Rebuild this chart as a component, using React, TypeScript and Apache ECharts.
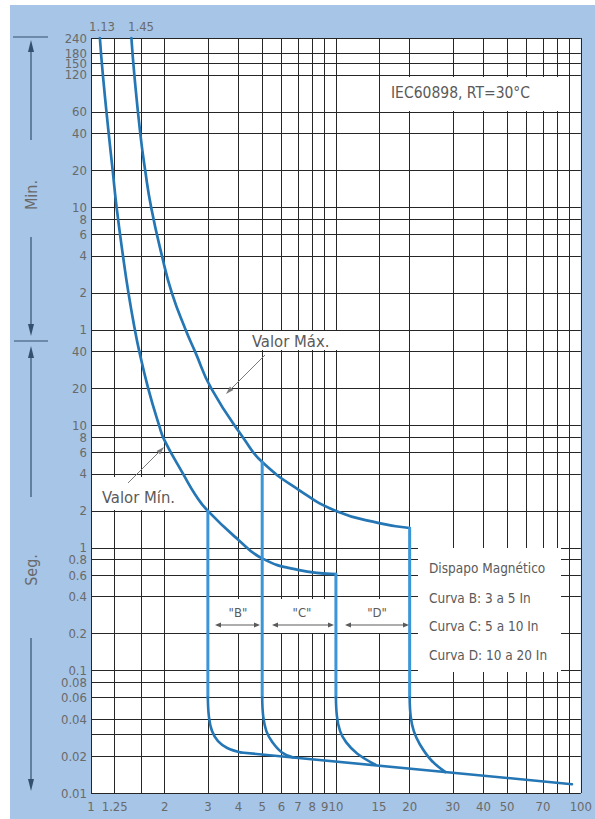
import React, { useEffect, useRef } from "react";
import * as echarts from "echarts";

// ---- axis grid & labels ----
const xGridValues = [1, 1.25, 1.6, 2, 3, 4, 5, 6, 7, 8, 9, 10, 15, 20, 30, 40, 50, 60, 70, 80, 90, 100];
const xLabelValues = [1, 1.25, 2, 3, 4, 5, 6, 7, 8, 9, 10, 15, 20, 30, 40, 50, 70, 100];
// y axis in seconds (upper part labelled in minutes)
const yGridValues = [
  0.01, 0.02, 0.03, 0.04, 0.06, 0.08, 0.1, 0.2, 0.4, 0.6, 0.8, 1, 2, 4, 6, 8, 10, 20, 40,
  60, 120, 240, 360, 480, 600, 1200, 2400, 3600, 7200, 9000, 10800, 14400,
];
const yLabelValues = [
  0.01, 0.02, 0.04, 0.06, 0.08, 0.1, 0.2, 0.4, 0.6, 0.8, 1, 2, 4, 6, 8, 10, 20, 40,
  60, 120, 240, 360, 480, 600, 1200, 2400, 3600, 7200, 9000, 10800, 14400,
];
const yLabelTexts = [
  "0.01", "0.02", "0.04", "0.06", "0.08", "0.1", "0.2", "0.4", "0.6", "0.8", "1", "2", "4", "6", "8", "10", "20", "40",
  "1", "2", "4", "6", "8", "10", "20", "40", "60", "120", "150", "180", "240",
];

// ---- curves [In multiple, time s] ----
const minCurve = [
  [1.087, 14400], [1.118, 7200], [1.181, 2400], [1.226, 1200], [1.272, 600], [1.351, 240], [1.422, 120],
  [1.511, 60], [1.575, 40], [1.712, 20], [1.896, 10], [1.994, 7.57], [2.39, 3.93], [2.67, 2.7], [3, 2],
  [4, 1.16], [5, 0.82], [7, 0.66], [10, 0.61],
];
const maxCurve = [
  [1.462, 14400], [1.503, 7200], [1.589, 2400], [1.664, 1200], [1.76, 600], [1.949, 240], [2.138, 120],
  [2.434, 60], [2.658, 40], [3.097, 20], [4.244, 7.57], [5, 5], [7.07, 2.96], [10, 2], [15, 1.59], [20, 1.45],
];
const vertB = [[3, 2], [3, 0.06]];
const vertC = [[5, 5], [5, 0.06]];
const vertD = [[10, 0.61], [10, 0.06]];
const vertE = [[20, 1.45], [20, 0.06]];
const bendB = [[3, 0.06], [3.03, 0.042], [3.12, 0.032], [3.3, 0.0265], [3.6, 0.0233], [4.1, 0.0214]];
const bendC = [[5, 0.06], [5.05, 0.042], [5.2, 0.032], [5.5, 0.026], [6, 0.0215], [6.7, 0.0195]];
const bendD = [[10, 0.06], [10.1, 0.042], [10.4, 0.032], [11, 0.026], [12.2, 0.021], [14.5, 0.017]];
const bendE = [[20, 0.06], [20.2, 0.042], [20.8, 0.032], [22, 0.025], [24.5, 0.0185], [28, 0.0148]];
const baseLine = [[4.1, 0.0214], [92, 0.0118]];

const FONT = '"DejaVu Sans Condensed", "Liberation Sans Narrow", "DejaVu Sans", sans-serif';
const CURVE = "#2476b4";
const VERT = "#3b95d8";
const ARROW = "#34506e";
const GREY = "#5a5a5a";

function txt(text: string, x: number, y: number, size: number, extra: any = {}) {
  return {
    type: "text",
    x,
    y,
    z: 5,
    silent: true,
    ...extra,
    style: {
      text,
      fill: extra.fill || GREY,
      font: `${size}px ${FONT}`,
      align: extra.align || "left",
      verticalAlign: "middle",
      textAlign: extra.align || "left",
      textVerticalAlign: "middle",
    },
  };
}
function whiteRect(x: number, y: number, w: number, h: number) {
  return { type: "rect", z: 1, silent: true, shape: { x, y, width: w, height: h }, style: { fill: "#ffffff" } };
}
function seg(x1: number, y1: number, x2: number, y2: number, color: string, w = 1.2) {
  return { type: "line", z: 5, silent: true, shape: { x1, y1, x2, y2 }, style: { stroke: color, lineWidth: w } };
}
function head(tx: number, ty: number, dx: number, dy: number, len: number, hw: number, color: string) {
  const bx = tx - dx * len;
  const by = ty - dy * len;
  return {
    type: "polygon",
    z: 5,
    silent: true,
    shape: { points: [[tx, ty], [bx - dy * hw, by + dx * hw], [bx + dy * hw, by - dx * hw]] },
    style: { fill: color },
  };
}

function lineSeries(data: number[][], color: string, width: number, smooth: number | boolean) {
  return {
    type: "line",
    data,
    smooth,
    symbol: "none",
    showSymbol: false,
    silent: true,
    z: 4,
    lineStyle: { color, width, cap: "round", join: "round" },
  };
}

export default function App() {
  const ref = useRef<HTMLDivElement>(null);
  useEffect(() => {
    if (!ref.current) return;
    const chart = echarts.init(ref.current, undefined, { renderer: "svg" });
    const yFmt = (v: number) => {
      for (let i = 0; i < yLabelValues.length; i++) {
        if (Math.abs(Math.log10(v) - Math.log10(yLabelValues[i])) < 1e-6) return yLabelTexts[i];
      }
      return "";
    };
    const s2 = Math.SQRT1_2;
    chart.setOption({
      animation: false,
      backgroundColor: "#ffffff",
      grid: {
        left: 91,
        top: 38,
        right: 7,
        bottom: 26,
        show: true,
        backgroundColor: "#ffffff",
        borderWidth: 0,
        containLabel: false,
      },
      xAxis: {
        type: "log",
        logBase: 10,
        min: 1,
        max: 100,
        axisLine: { show: false },
        axisTick: { show: false, customValues: xGridValues },
        splitLine: { show: true, lineStyle: { color: "#262626", width: 1 } },
        minorSplitLine: { show: false },
        axisLabel: {
          customValues: xLabelValues,
          formatter: (v: number) => String(v),
          color: "#6a6a6a",
          fontSize: 13,
          fontFamily: FONT,
          margin: 7,
        },
      },
      yAxis: {
        type: "log",
        logBase: 10,
        min: 0.01,
        max: 14400,
        axisLine: { show: false },
        axisTick: { show: false, customValues: yGridValues },
        splitLine: { show: true, lineStyle: { color: "#262626", width: 1 } },
        minorSplitLine: { show: false },
        axisLabel: {
          customValues: yLabelValues,
          formatter: yFmt,
          color: "#6a6a6a",
          fontSize: 13,
          fontFamily: FONT,
          margin: 4,
        },
      },
      graphic: [
        { type: "rect", z: -10, silent: true, shape: { x: 10, y: 5, width: 585, height: 814 }, style: { fill: "#a6c5e7" } },
        // boxes behind texts
        whiteRect(384, 77, 174, 34),
        whiteRect(418, 548, 143, 124),
        whiteRect(249, 331, 90, 19),
        whiteRect(99, 477, 86, 33),
        whiteRect(212, 599, 51, 34),
        whiteRect(267, 599, 72, 34),
        whiteRect(342, 599, 70, 34),
        txt("IEC60898, RT=30°C", 391, 93, 15.5),
        txt("Dispapo Magnético", 429, 568, 13.5),
        txt("Curva B: 3 a 5 In", 429, 598, 13.5),
        txt("Curva C: 5 a 10 In", 429, 626, 13.5),
        txt("Curva D: 10 a 20 In", 429, 655, 13.5),
        txt("Valor Máx.", 252, 341, 16.5),
        txt("Valor Mín.", 102, 497, 16.5),
        txt('"B"', 238, 612, 13, { align: "center" }),
        txt('"C"', 302, 612, 13, { align: "center" }),
        txt('"D"', 377, 612, 13, { align: "center" }),
        txt("1.13", 102, 26, 13, { align: "center", fill: "#6a6a6a" }),
        txt("1.45", 141, 26, 13, { align: "center", fill: "#6a6a6a" }),
        txt("Min.", 31, 195, 16, { align: "center", rotation: Math.PI / 2, fill: "#6a6a6a" }),
        txt("Seg.", 31, 570, 16, { align: "center", rotation: Math.PI / 2, fill: "#6a6a6a" }),
        // B/C/D double arrows
        seg(217, 625, 258, 625, GREY, 1),
        head(215, 625, -1, 0, 6, 2.5, GREY),
        head(260, 625, 1, 0, 6, 2.5, GREY),
        seg(274, 625, 332, 625, GREY, 1),
        head(272, 625, -1, 0, 6, 2.5, GREY),
        head(334, 625, 1, 0, 6, 2.5, GREY),
        seg(347, 625, 407, 625, GREY, 1),
        head(345, 625, -1, 0, 6, 2.5, GREY),
        head(409, 625, 1, 0, 6, 2.5, GREY),
        // Valor arrows
        seg(265, 355, 230, 390, "#7a7a7a", 1),
        head(226, 394, -s2, s2, 8, 2.5, "#7a7a7a"),
        seg(128, 483, 160, 451, "#7a7a7a", 1),
        head(164, 447, s2, -s2, 8, 2.5, "#7a7a7a"),
        // left side time-unit arrows
        seg(13, 37, 48, 37, ARROW, 1.2),
        seg(31, 48, 31, 140, ARROW, 1.2),
        head(31, 40, 0, -1, 12, 3, ARROW),
        seg(31, 237, 31, 326, ARROW, 1.2),
        head(31, 336, 0, 1, 12, 3, ARROW),
        seg(14, 341, 48, 341, ARROW, 1.2),
        head(31, 346, 0, -1, 12, 3, ARROW),
        seg(31, 356, 31, 497, ARROW, 1.2),
        seg(31, 638, 31, 781, ARROW, 1.2),
        head(31, 791, 0, 1, 12, 3, ARROW),
      ],
      series: [
        lineSeries(minCurve, CURVE, 2.7, 0.5),
        lineSeries(maxCurve, CURVE, 2.7, 0.5),
        lineSeries(vertB, VERT, 3, false),
        lineSeries(vertC, VERT, 3, false),
        lineSeries(vertD, VERT, 3, false),
        lineSeries(vertE, VERT, 3, false),
        lineSeries(bendB, CURVE, 2.6, 0.4),
        lineSeries(bendC, CURVE, 2.6, 0.4),
        lineSeries(bendD, CURVE, 2.6, 0.4),
        lineSeries(bendE, CURVE, 2.6, 0.4),
        lineSeries(baseLine, CURVE, 2.6, false),
      ],
    });
    return () => chart.dispose();
  }, []);
  return <div ref={ref} style={{ position: "absolute", left: 0, top: 0, width: 595, height: 819 }} />;
}
